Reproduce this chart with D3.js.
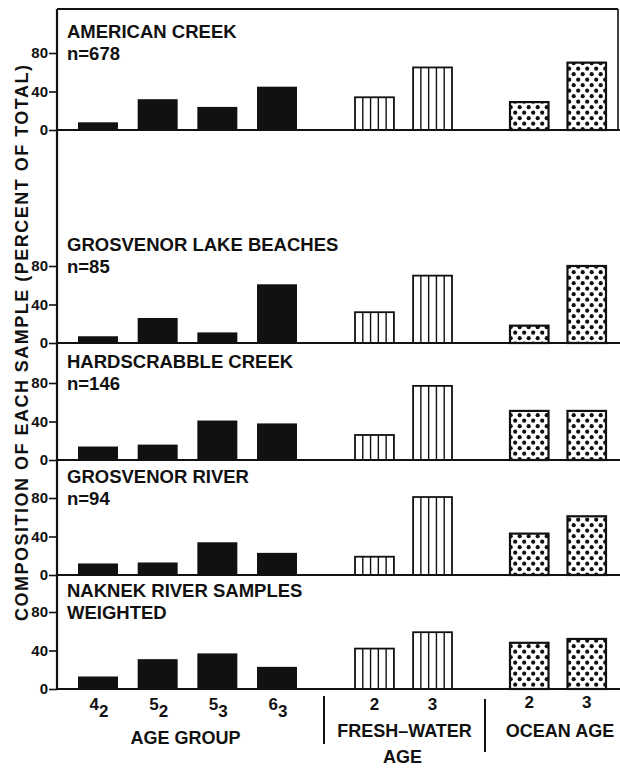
<!DOCTYPE html>
<html>
<head>
<meta charset="utf-8">
<script src="https://cdn.jsdelivr.net/npm/d3@7"></script>
<style>
  body { margin: 0; background: #fff; }
  text { font-family: "Liberation Sans", Arial, sans-serif; font-weight: bold; fill: #111; }
</style>
</head>
<body>
<div class="chart"></div>
<script>
// sample sites and the note under each name
const sites = ["AMERICAN CREEK", "GROSVENOR LAKE BEACHES", "HARDSCRABBLE CREEK", "GROSVENOR RIVER", "NAKNEK RIVER SAMPLES"];
const siteNotes = ["n=678", "n=85", "n=146", "n=94", "WEIGHTED"];

// categories: age group is [main, subscript]
const ageGroups = [["4", "2"], ["5", "2"], ["5", "3"], ["6", "3"]];
const freshWaterAges = ["2", "3"];
const oceanAges = ["2", "3"];
const yTicks = [0, 40, 80];

// percent of total, one row per site
const ageGroupPct = [
  [8, 32, 24, 45],
  [7, 26, 11, 61],
  [14, 16, 41, 38],
  [12, 13, 34, 23],
  [13, 31, 37, 23]
];
const freshWaterPct = [
  [34, 65],
  [32, 70],
  [26, 77],
  [19, 81],
  [42, 59]
];
const oceanPct = [
  [29, 70],
  [18, 80],
  [51, 51],
  [43, 61],
  [48, 52]
];

const width = 620;
const height = 768;
const axisX = 57;
const frameRight = 618;
const frameTop = 9;
const panelHeights = [121, 213, 117, 115, 114];

const svg = d3.select(".chart")
  .append("svg")
  .attr("width", width)
  .attr("height", height);

// dot pattern for ocean age bars
const defs = svg.append("defs");
const dots = defs.append("pattern")
  .attr("id", "dots")
  .attr("patternUnits", "userSpaceOnUse")
  .attr("width", 9)
  .attr("height", 11);
dots.append("rect").attr("width", 9).attr("height", 11).attr("fill", "#fff");
dots.append("circle").attr("cx", 2.2).attr("cy", 2.7).attr("r", 2.1).attr("fill", "#111");
dots.append("circle").attr("cx", 6.7).attr("cy", 8.2).attr("r", 2.1).attr("fill", "#111");

// x scales, one per group
const xAge = d3.scaleBand().domain(d3.range(ageGroups.length)).range([78, 297]).paddingInner(0.33);
const xFresh = d3.scaleBand().domain(freshWaterAges).range([355, 452]).paddingInner(0.33);
const xOcean = d3.scaleBand().domain(oceanAges).range([510, 606]).paddingInner(0.33);

let acc = frameTop;
const baselines = panelHeights.map(h => (acc += h));

baselines.forEach((b, p) => {
  const y = d3.scaleLinear().domain([0, 80]).range([b, b - 77]);
  const g = svg.append("g");

  g.append("g")
    .attr("transform", `translate(${axisX},0)`)
    .call(d3.axisLeft(y).tickValues(yTicks).tickSize(8).tickPadding(1))
    .call(a => a.select(".domain").remove())
    .call(a => a.selectAll("line").attr("stroke", "#111").attr("stroke-width", 1.6))
    .call(a => a.selectAll("text")
      .attr("font-family", null)
      .style("font-family", "Liberation Sans, Arial, sans-serif")
      .style("font-weight", "bold")
      .style("font-size", "15px")
      .attr("fill", "#111"));

  g.append("text")
    .attr("x", 67).attr("y", b - 92)
    .style("font-size", "18.5px")
    .text(sites[p]);
  g.append("text")
    .attr("x", 67).attr("y", b - 70)
    .style("font-size", "18.5px")
    .text(siteNotes[p]);

  // age group bars
  g.selectAll(".age")
    .data(ageGroupPct[p])
    .enter()
    .append("rect")
    .attr("x", (d, i) => xAge(i))
    .attr("width", xAge.bandwidth())
    .attr("y", d => y(d))
    .attr("height", d => y(0) - y(d))
    .attr("fill", "#111");

  // fresh-water bars with vertical hatching
  const fw = g.selectAll(".fw")
    .data(freshWaterPct[p])
    .enter()
    .append("g");
  fw.append("rect")
    .attr("x", (d, i) => xFresh(freshWaterAges[i]))
    .attr("width", xFresh.bandwidth())
    .attr("y", d => y(d))
    .attr("height", d => y(0) - y(d))
    .attr("fill", "#fff")
    .attr("stroke", "#111")
    .attr("stroke-width", 1.8);
  fw.each(function (d, i) {
    const x0 = xFresh(freshWaterAges[i]);
    const bw = xFresh.bandwidth();
    d3.select(this).selectAll("line")
      .data(d3.range(1, 5))
      .enter()
      .append("line")
      .attr("x1", k => x0 + bw * k / 5)
      .attr("x2", k => x0 + bw * k / 5)
      .attr("y1", y(d))
      .attr("y2", y(0))
      .attr("stroke", "#111")
      .attr("stroke-width", 1.4);
  });

  // ocean age bars with dots
  g.selectAll(".oc")
    .data(oceanPct[p])
    .enter()
    .append("rect")
    .attr("x", (d, i) => xOcean(oceanAges[i]))
    .attr("width", xOcean.bandwidth())
    .attr("y", d => y(d))
    .attr("height", d => y(0) - y(d))
    .attr("fill", "url(#dots)")
    .attr("stroke", "#111")
    .attr("stroke-width", 2.2);

  // baseline across the panel
  g.append("line")
    .attr("x1", axisX).attr("x2", width)
    .attr("y1", y(0)).attr("y2", y(0))
    .attr("stroke", "#111")
    .attr("stroke-width", 2);
});

const bottom = baselines[baselines.length - 1];

// frame
svg.append("line")
  .attr("x1", axisX).attr("x2", axisX)
  .attr("y1", frameTop).attr("y2", bottom)
  .attr("stroke", "#111").attr("stroke-width", 2.2);
svg.append("line")
  .attr("x1", axisX).attr("x2", frameRight)
  .attr("y1", frameTop).attr("y2", frameTop)
  .attr("stroke", "#111").attr("stroke-width", 2);
svg.append("line")
  .attr("x1", frameRight).attr("x2", frameRight)
  .attr("y1", frameTop).attr("y2", baselines[0])
  .attr("stroke", "#111").attr("stroke-width", 1.6);

// x labels
const tickFont = "17px";
ageGroups.forEach((a, i) => {
  const t = svg.append("text")
    .attr("x", xAge(i) + xAge.bandwidth() / 2 + 1)
    .attr("y", bottom + 21)
    .attr("text-anchor", "middle")
    .style("font-size", tickFont);
  t.append("tspan").text(a[0]);
  t.append("tspan").attr("dy", 7).text(a[1]);
});
freshWaterAges.forEach(a => {
  svg.append("text")
    .attr("x", xFresh(a) + xFresh.bandwidth() / 2)
    .attr("y", bottom + 21)
    .attr("text-anchor", "middle")
    .style("font-size", tickFont)
    .text(a);
});
oceanAges.forEach(a => {
  svg.append("text")
    .attr("x", xOcean(a) + xOcean.bandwidth() / 2)
    .attr("y", bottom + 19)
    .attr("text-anchor", "middle")
    .style("font-size", tickFont)
    .text(a);
});

const mid = s => d3.mean(s.range());
const groupLabel = (x, y, txt) => svg.append("text")
  .attr("x", x).attr("y", y)
  .attr("text-anchor", "middle")
  .style("font-size", "18px")
  .text(txt);
groupLabel(mid(xAge) - 2, bottom + 55, "AGE GROUP");
groupLabel(mid(xFresh) + 1, bottom + 48, "FRESH–WATER");
groupLabel(mid(xFresh) - 1, bottom + 74, "AGE");
groupLabel(mid(xOcean) + 2, bottom + 48, "OCEAN AGE");

// separators between groups
svg.append("line")
  .attr("x1", 324).attr("x2", 324)
  .attr("y1", bottom + 7).attr("y2", bottom + 55)
  .attr("stroke", "#111").attr("stroke-width", 2);
svg.append("line")
  .attr("x1", 485).attr("x2", 485)
  .attr("y1", bottom + 10).attr("y2", bottom + 63)
  .attr("stroke", "#111").attr("stroke-width", 2);

// y axis title
svg.append("text")
  .attr("transform", "translate(28,343) rotate(-90)")
  .attr("text-anchor", "middle")
  .attr("textLength", 556)
  .attr("lengthAdjust", "spacing")
  .style("font-size", "18px")
  .text("COMPOSITION OF EACH SAMPLE (PERCENT OF TOTAL)");
</script>
</body>
</html>
